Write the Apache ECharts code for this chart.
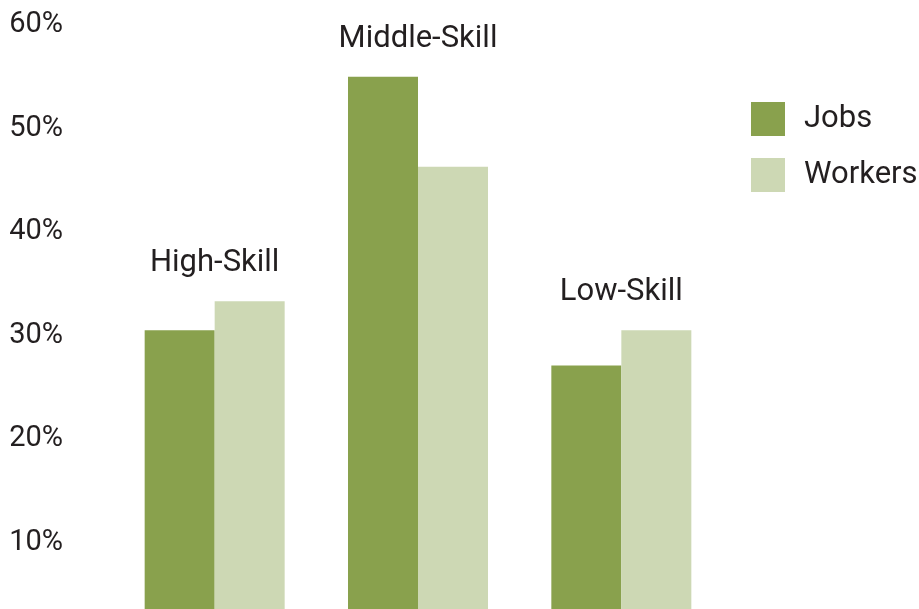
<!DOCTYPE html>
<html>
<head>
<meta charset="utf-8">
<style>html,body{margin:0;padding:0;background:#fff}#c{width:919px;height:609px}</style>
<script src="https://cdn.jsdelivr.net/npm/echarts@6/dist/echarts.min.js"></script>
</head>
<body>
<div id="c"></div>
<script>
const categories = ['High-Skill', 'Middle-Skill', 'Low-Skill'];
const jobs = [30.5, 55, 27.1];
const workers = [33.3, 46.3, 30.5];
const yTicks = [0, 10, 20, 30, 40, 50, 60];

const FONT = 'Roboto';
const TXT = '#231f20';
const groupTop = categories.map((c, i) => Math.max(jobs[i], workers[i]));

const chart = echarts.init(document.getElementById('c'));
chart.setOption({
  animation: false,
  textStyle: { fontFamily: FONT },
  grid: { left: 113, width: 610, top: 25, height: 621, outerBoundsMode: 'none', containLabel: false },
  legend: {
    data: ['Jobs', 'Workers'],
    orient: 'vertical',
    left: 746, top: 97,
    itemWidth: 34, itemHeight: 34, itemGap: 22,
    icon: 'rect',
    textStyle: { fontFamily: FONT, fontSize: 31, color: TXT, padding: [0, 0, 0, 14] }
  },
  xAxis: {
    type: 'category',
    data: categories,
    axisLine: { show: false }, axisTick: { show: false }, axisLabel: { show: false },
    splitLine: { show: false }
  },
  yAxis: {
    type: 'value',
    min: yTicks[0], max: yTicks[yTicks.length - 1], interval: 10,
    axisLine: { show: false }, axisTick: { show: false }, splitLine: { show: false },
    axisLabel: {
      formatter: v => v + '%',
      fontFamily: FONT, fontSize: 29, color: TXT, margin: 50, align: 'right'
    }
  },
  series: [
    { name: 'Jobs', type: 'bar', data: jobs, barWidth: 70, barGap: '0%',
      itemStyle: { color: '#89a14d' } },
    { name: 'Workers', type: 'bar', data: workers, barWidth: 70,
      itemStyle: { color: '#cdd8b4' } },
    { name: 'labels', type: 'scatter', data: groupTop, symbolSize: 1, silent: true,
      itemStyle: { opacity: 1, color: 'rgba(0,0,0,0)' },
      label: { show: true, position: 'top', distance: 22,
        formatter: p => categories[p.dataIndex],
        fontFamily: FONT, fontSize: 31, color: TXT, opacity: 1 } }
  ]
});
</script>
</body>
</html>
